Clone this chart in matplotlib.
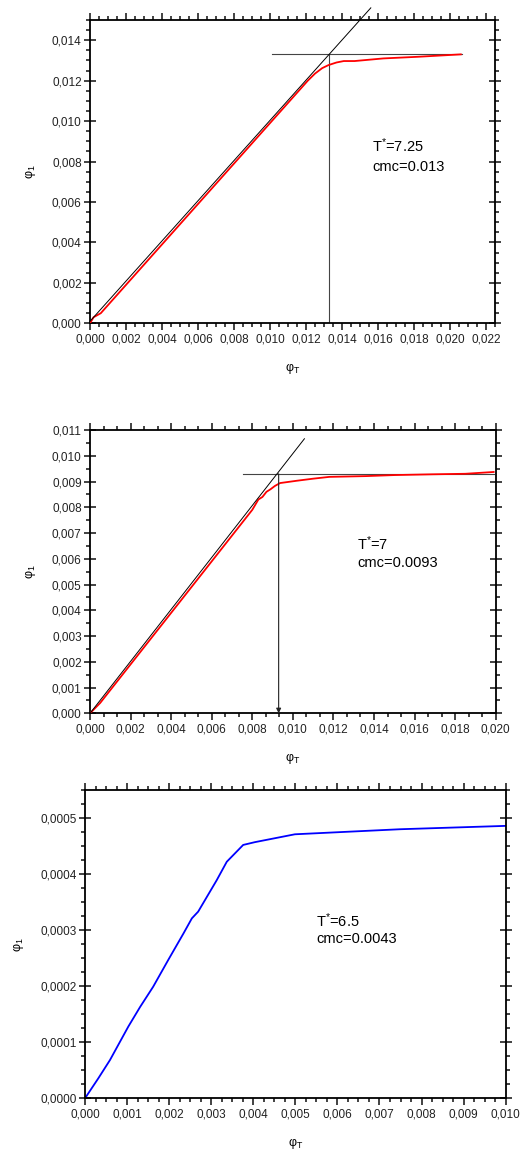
import matplotlib
matplotlib.use("Agg")
import matplotlib.pyplot as plt
from matplotlib.ticker import MultipleLocator, FuncFormatter

plt.rcParams['font.family'] = ['Liberation Sans', 'DejaVu Sans']
plt.rcParams['mathtext.fontset'] = 'custom'
plt.rcParams['mathtext.rm'] = 'Liberation Sans'
plt.rcParams['mathtext.it'] = 'Liberation Sans'

# panel 1 : T* = 7.25
phiT_1 = [0, 0.0002, 0.0006, 0.0009, 0.0012, 0.0015, 0.0018, 0.0021, 0.0024, 0.0027,
          0.0030, 0.0033, 0.0036, 0.0040, 0.0044, 0.0048, 0.0052, 0.0056, 0.0060, 0.0064,
          0.0068, 0.0072, 0.0076, 0.0080, 0.0084, 0.0088, 0.0092, 0.0096, 0.0100, 0.0104,
          0.0108, 0.0112, 0.0116, 0.0121, 0.0125, 0.0129, 0.01325, 0.0137, 0.0141, 0.0147,
          0.0163, 0.0182, 0.0206]
phi1_1 = [0, 0.0003, 0.0005, 0.0008, 0.0011, 0.0014, 0.0017, 0.0020, 0.0023, 0.0026,
          0.0029, 0.0032, 0.0035, 0.0039, 0.0043, 0.0047, 0.0051, 0.0055, 0.0059, 0.0063,
          0.0067, 0.0071, 0.0075, 0.0079, 0.0083, 0.0087, 0.0091, 0.0095, 0.0099, 0.0103,
          0.0107, 0.0111, 0.0115, 0.0120, 0.01235, 0.01262, 0.01277, 0.0129, 0.01297, 0.01297,
          0.0131, 0.01318, 0.0133]
tang_x1 = [0, 0.0156]
tang_y1 = [0.0001, 0.0156]
cmc_1 = 0.0133
hline_x1 = [0.0101, 0.02066]

# panel 2 : T* = 7
phiT_2 = [0, 0.0005, 0.0010, 0.0015, 0.0020, 0.0025, 0.0030, 0.0035, 0.0040, 0.0045,
          0.0050, 0.0055, 0.0061, 0.0065, 0.0070, 0.0075, 0.0080, 0.0083, 0.0085, 0.0087,
          0.0089, 0.00912, 0.00937, 0.0102, 0.0110, 0.0118, 0.0136, 0.0150, 0.0169, 0.0185,
          0.0199]
phi1_2 = [0, 0.0004, 0.0009, 0.0014, 0.0019, 0.0024, 0.0029, 0.0034, 0.0039, 0.0044,
          0.0049, 0.0054, 0.0060, 0.0064, 0.0069, 0.0074, 0.0079, 0.0083, 0.0084, 0.0086,
          0.0087, 0.00883, 0.00894, 0.00903, 0.00911, 0.00918, 0.00921, 0.00925, 0.00928,
          0.0093, 0.00937]
tang_x2 = [0, 0.01057]
tang_y2 = [0, 0.01066]
cmc_2 = 0.0093
hline_x2 = [0.00756, 0.0199]

# panel 3 : T* = 6.5
phiT_3 = [0, 0.000317, 0.000594, 0.00103, 0.00131, 0.00162, 0.00198, 0.00234, 0.00254,
          0.00269, 0.00313, 0.00337, 0.00376, 0.00404, 0.00499, 0.00749, 0.0100]
phi1_3 = [0, 0.0000357, 0.0000683, 0.000128, 0.000163, 0.000199, 0.000247, 0.000294,
          0.000321, 0.000333, 0.000389, 0.000422, 0.000452, 0.000457, 0.000471, 0.00048,
          0.000486]


def comma_fmt(nd):
    return FuncFormatter(lambda v, p: f"{v:.{nd}f}".replace(".", ","))


def style_axes(ax, xmaj, xmin, ymaj, ymin, xnd, ynd):
    ax.xaxis.set_major_locator(MultipleLocator(xmaj))
    ax.xaxis.set_minor_locator(MultipleLocator(xmin))
    ax.yaxis.set_major_locator(MultipleLocator(ymaj))
    ax.yaxis.set_minor_locator(MultipleLocator(ymin))
    ax.xaxis.set_major_formatter(comma_fmt(xnd))
    ax.yaxis.set_major_formatter(comma_fmt(ynd))
    for s in ax.spines.values():
        s.set_linewidth(1.3)
    ax.tick_params(which='both', direction='out', top=True, right=True,
                   labelsize=8.5, width=1.2, colors='#222222', pad=2)
    ax.tick_params(which='major', length=5)
    ax.tick_params(which='minor', length=3)
    ax.tick_params(axis='y', which='major', right=True, direction='inout', length=8)
    ax.tick_params(axis='y', which='minor', direction='out')
    ax.set_xlabel("φ$_{\\mathrm{T}}$", fontsize=9, labelpad=12)
    ax.set_ylabel("φ$_{\\mathrm{1}}$", fontsize=9, labelpad=10)


W, H = 524, 1151
fig = plt.figure(figsize=(W / 100, H / 100), dpi=100)


def px_axes(l, t, r, b):
    return fig.add_axes([l / W, 1 - b / H, (r - l) / W, (b - t) / H])


# ---- panel 1
ax1 = px_axes(90, 20, 495, 323.3)
ax1.plot(phiT_1, phi1_1, color='red', lw=1.3, zorder=3)
ax1.plot(tang_x1, tang_y1, color='black', lw=0.7, clip_on=False, zorder=4)
ax1.plot(hline_x1, [cmc_1, cmc_1], color='#444444', lw=0.8)
ax1.plot([cmc_1, cmc_1], [cmc_1, 0], color='#444444', lw=0.8)
ax1.set_xlim(0, 0.0225)
ax1.set_ylim(0, 0.015)
style_axes(ax1, 0.002, 0.0005, 0.002, 0.0005, 3, 3)
ax1.text(0.01567, 0.00877, "T$^{\\mathrm{*}}$=7.25", fontsize=10.5, va='center')
ax1.text(0.01567, 0.00775, "cmc=0.013", fontsize=10.5, va='center')

# ---- panel 2
ax2 = px_axes(90, 430, 495.7, 713.3)
ax2.plot(phiT_2, phi1_2, color='red', lw=1.3, zorder=3)
ax2.plot(tang_x2, tang_y2, color='black', lw=0.7, zorder=4)
ax2.plot(hline_x2, [cmc_2, cmc_2], color='#444444', lw=0.8)
ax2.annotate("", xy=(cmc_2, 0), xytext=(cmc_2, cmc_2),
             arrowprops=dict(arrowstyle='-|>', color='#222222', lw=0.8,
                             mutation_scale=7, shrinkA=0, shrinkB=0))
ax2.set_xlim(0, 0.020)
ax2.set_ylim(0, 0.011)
style_axes(ax2, 0.002, 0.002 / 3, 0.001, 0.0005, 3, 3)
ax2.text(0.01317, 0.00658, "T$^{\\mathrm{*}}$=7", fontsize=10.5, va='center')
ax2.text(0.01317, 0.00585, "cmc=0.0093", fontsize=10.5, va='center')

# ---- panel 3
ax3 = px_axes(85, 790, 505.7, 1098.3)
ax3.plot(phiT_3, phi1_3, color='blue', lw=1.3)
ax3.set_xlim(0, 0.010)
ax3.set_ylim(0, 0.00055)
style_axes(ax3, 0.001, 0.00025, 0.0001, 0.000025, 3, 4)
ax3.text(0.00549, 0.000316, "T$^{\\mathrm{*}}$=6.5", fontsize=10.5, va='center')
ax3.text(0.00549, 0.000284, "cmc=0.0043", fontsize=10.5, va='center')

fig.savefig("out.png", dpi=100)
